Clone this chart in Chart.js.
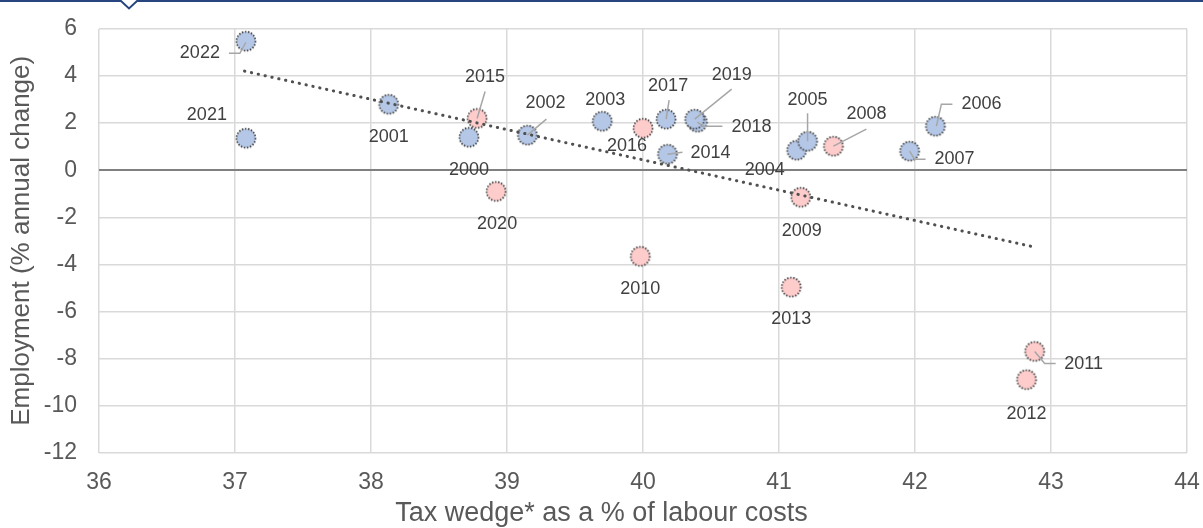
<!DOCTYPE html>
<html>
<head>
<meta charset="utf-8">
<script src="https://cdn.jsdelivr.net/npm/chart.js@4/dist/chart.umd.min.js"></script>
<style>
  html, body { margin: 0; padding: 0; background: #ffffff; }
  #wrap { width: 1203px; height: 528px; position: relative; }
</style>
</head>
<body>
<div id="wrap"><canvas id="tax_chart"></canvas></div>
<script>
// Tax wedge (% of labour costs) vs employment (% annual change), by year

// blue markers
const blueYears = [2000, 2001, 2002, 2003, 2004, 2005, 2006, 2007, 2014, 2017, 2018, 2019, 2021, 2022];
const blueWedge = [38.72, 38.13, 39.15, 39.70, 41.13, 41.21, 42.15, 41.96, 40.18, 40.17, 40.40, 40.38, 37.08, 37.08];
const blueEmpl  = [1.40, 2.80, 1.49, 2.08, 0.85, 1.23, 1.87, 0.81, 0.68, 2.17, 2.04, 2.17, 1.36, 5.48];

// pink markers
const pinkYears = [2008, 2009, 2010, 2011, 2012, 2013, 2015, 2016, 2020];
const pinkWedge = [41.40, 41.16, 39.98, 42.88, 42.82, 41.09, 38.78, 40.00, 38.92];
const pinkEmpl  = [1.02, -1.15, -3.66, -7.70, -8.90, -4.97, 2.20, 1.78, -0.90];

// linear trend line, ends
const trendWedge = [37.07, 42.85];
const trendEmpl  = [4.21, -3.23];

// axis ranges / ticks
const xTicks = [36, 37, 38, 39, 40, 41, 42, 43, 44];
const yTicks = [-12, -10, -8, -6, -4, -2, 0, 2, 4, 6];

// where each year label sits relative to its marker (px), plus leader line
const labelLayout = {
    2022: { dx: -46, dy: 12, leader: [[-17, 12], [-6, 12], [0, 1]] },
    2021: { dx: -39, dy: -23 },
    2001: { dx: 0, dy: 33 },
    2000: { dx: 0, dy: 33 },
    2015: { dx: 8, dy: -41, leader: [[8, -27], [0, 0]] },
    2020: { dx: 1, dy: 33 },
    2002: { dx: 18, dy: -32, leader: [[19, -16], [0, 0]] },
    2003: { dx: 3, dy: -21 },
    2016: { dx: -16, dy: 18 },
    2017: { dx: 2, dy: -33, leader: [[3, -19], [0, 0]] },
    2014: { dx: 43, dy: -1, leader: [[15, -2], [0, 0]] },
    2019: { dx: 37, dy: -44, leader: [[37, -30], [0, 0]] },
    2018: { dx: 54, dy: 5, leader: [[25, 4], [6, 4], [0, 0]] },
    2004: { dx: -32, dy: 20 },
    2005: { dx: 0, dy: -41, leader: [[0, -28], [0, 0]] },
    2008: { dx: 33, dy: -32, leader: [[33, -17], [0, 0]] },
    2007: { dx: 45, dy: 8, leader: [[16, 8], [5, 8], [0, 0]] },
    2006: { dx: 46, dy: -22, leader: [[17, -22], [6, -22], [1, 0]] },
    2009: { dx: 1, dy: 34 },
    2010: { dx: 0, dy: 33 },
    2013: { dx: 0, dy: 32 },
    2011: { dx: 49, dy: 13, leader: [[21, 12], [10, 12], [0, 0]] },
    2012: { dx: 0, dy: 34 }
};

const FONT = '"Liberation Sans", Arial, sans-serif';

function toPoints(xs, ys) {
    return xs.map((x, i) => ({ x: x, y: ys[i] }));
}

// round marker with a dotted outline
function makeMarker(fill) {
    const r = 9.5;
    const c = document.createElement('canvas');
    c.width = 24;
    c.height = 24;
    const g = c.getContext('2d');
    g.beginPath();
    g.arc(12, 12, r, 0, Math.PI * 2);
    g.fillStyle = fill;
    g.fill();
    g.setLineDash([1.5, 1.6]);
    g.lineWidth = 1.7;
    g.strokeStyle = '#3a3a3a';
    g.stroke();
    return c;
}

const topBand = {
    id: 'topBand',
    afterDraw(chart) {
        const ctx = chart.ctx;
        ctx.save();
        ctx.strokeStyle = '#27457f';
        ctx.lineWidth = 2;
        ctx.beginPath();
        ctx.moveTo(0, 1);
        ctx.lineTo(121, 1);
        ctx.lineTo(129, 8.5);
        ctx.lineTo(137, 1);
        ctx.lineTo(chart.width, 1);
        ctx.stroke();
        ctx.restore();
    }
};

const yearLabels = {
    id: 'yearLabels',
    afterDatasetsDraw(chart) {
        const ctx = chart.ctx;
        const groups = [[1, blueYears], [2, pinkYears]];
        ctx.save();
        groups.forEach(([idx, yrs]) => {
            const meta = chart.getDatasetMeta(idx);
            meta.data.forEach((pt, j) => {
                const lay = labelLayout[yrs[j]];
                if (!lay) return;
                if (lay.leader) {
                    ctx.strokeStyle = '#a6a6a6';
                    ctx.lineWidth = 1.5;
                    ctx.setLineDash([]);
                    ctx.beginPath();
                    lay.leader.forEach((p, k) => {
                        if (k === 0) ctx.moveTo(pt.x + p[0], pt.y + p[1]);
                        else ctx.lineTo(pt.x + p[0], pt.y + p[1]);
                    });
                    ctx.stroke();
                }
                ctx.fillStyle = '#404040';
                ctx.font = '18px ' + FONT;
                ctx.textAlign = 'center';
                ctx.textBaseline = 'middle';
                ctx.fillText(String(yrs[j]), pt.x + lay.dx, pt.y + lay.dy);
            });
        });
        ctx.restore();
    }
};

let taxChart = null;

function initializeChart() {
    const ctx = document.getElementById('tax_chart').getContext('2d');

    taxChart = new Chart(ctx, {
        type: 'scatter',
        data: {
            datasets: [
                {
                    label: 'Trend',
                    type: 'line',
                    data: toPoints(trendWedge, trendEmpl),
                    borderColor: '#505050',
                    borderWidth: 3,
                    borderDash: [0.3, 6.7],
                    borderCapStyle: 'round',
                    pointRadius: 0,
                    fill: false,
                    order: 0
                },
                {
                    label: 'Blue years',
                    data: toPoints(blueWedge, blueEmpl),
                    pointStyle: makeMarker('#b4c7e7'),
                    pointRadius: 10,
                    order: 1
                },
                {
                    label: 'Pink years',
                    data: toPoints(pinkWedge, pinkEmpl),
                    pointStyle: makeMarker('#ffcccc'),
                    pointRadius: 10,
                    order: 2
                }
            ]
        },
        options: {
            responsive: true,
            maintainAspectRatio: false,
            animation: false,
            layout: { padding: { top: 29, right: 0, bottom: 0, left: 0 } },
            plugins: {
                legend: { display: false },
                tooltip: { enabled: false },
                // x axis title, centred on the whole chart like the original
                title: {
                    display: true,
                    position: 'bottom',
                    text: 'Tax wedge* as a % of labour costs',
                    color: '#595959',
                    font: { family: FONT, size: 27, weight: 'normal' },
                    padding: { top: 2, bottom: -2 }
                }
            },
            scales: {
                x: {
                    type: 'linear',
                    min: xTicks[0],
                    max: xTicks[xTicks.length - 1],
                    afterBuildTicks: (s) => { s.ticks = xTicks.map(v => ({ value: v })); },
                    afterFit: (s) => { s.height = 43; },
                    grid: { color: '#d9d9d9', lineWidth: 1.5, drawTicks: true, tickLength: 13, tickColor: 'rgba(0,0,0,0)' },
                    border: { display: false },
                    ticks: { color: '#595959', font: { family: FONT, size: 23 }, padding: 3.2 }
                },
                y: {
                    type: 'linear',
                    min: yTicks[0],
                    max: yTicks[yTicks.length - 1],
                    afterBuildTicks: (s) => { s.ticks = yTicks.map(v => ({ value: v })); },
                    afterFit: (s) => { s.width = 99; },
                    grid: {
                        color: (c) => (c.tick && c.tick.value === 0 ? '#808080' : '#d9d9d9'),
                        lineWidth: (c) => (c.tick && c.tick.value === 0 ? 2 : 1.5),
                        drawTicks: true,
                        tickLength: 22,
                        tickColor: 'rgba(0,0,0,0)'
                    },
                    border: { display: false },
                    ticks: { color: '#595959', font: { family: FONT, size: 23 }, padding: 0 },
                    title: {
                        display: true,
                        text: 'Employment (% annual change)',
                        color: '#595959',
                        font: { family: FONT, size: 26 },
                        padding: { top: 6, bottom: 4 }
                    }
                }
            }
        },
        plugins: [topBand, yearLabels]
    });
}

document.addEventListener('DOMContentLoaded', initializeChart);
</script>
</body>
</html>
